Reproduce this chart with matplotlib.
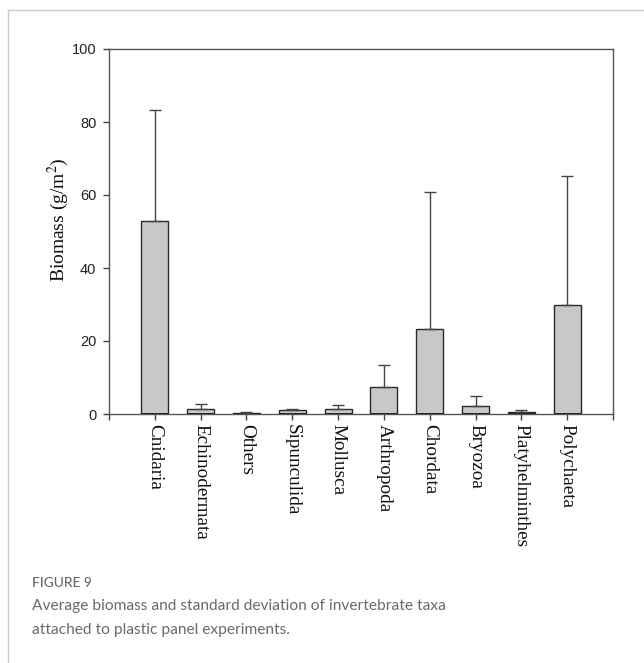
"""Average biomass (+SD) of invertebrate taxa on plastic panels."""

import matplotlib
matplotlib.use("Agg")
import matplotlib.pyplot as plt
from matplotlib.lines import Line2D

taxa = [
    "Cnidaria", "Echinodermata", "Others", "Sipunculida", "Mollusca",
    "Arthropoda", "Chordata", "Bryozoa", "Platyhelminthes", "Polychaeta",
]
biomass_mean = [53.0, 1.4, 0.3, 1.2, 1.4, 7.4, 23.2, 2.3, 0.6, 29.8]
biomass_sd = [30.3, 1.4, 0.2, 0.1, 1.1, 5.9, 37.7, 2.6, 0.5, 35.3]
y_ticks = [0, 20, 40, 60, 80, 100]

plt.rcParams["mathtext.fontset"] = "stix"

W, H = 644, 663
fig = plt.figure(figsize=(W / 100, H / 100), dpi=100)
ax = fig.add_axes([109 / W, 1 - 414 / H, (613 - 109) / W, (414 - 49) / H])

x = list(range(len(taxa)))
ax.bar(x, biomass_mean, width=0.59, color="#c8c8c8", edgecolor="#2a2a2a",
       linewidth=1.0, zorder=2)
# dark base line of each bar
ax.bar(x, [0.25] * len(x), width=0.59, color="#1a1a1a", linewidth=0, zorder=2)
ax.errorbar(x, biomass_mean, yerr=[[0] * len(x), biomass_sd], fmt="none",
            ecolor="#444444", elinewidth=1.0, capsize=4, capthick=1.0, zorder=3)

ax.set_xlim(-1, len(taxa))
ax.set_ylim(0, 100)

ax.set_xticks([-1] + x + [len(taxa)])
ax.set_xticklabels([""] + taxa + [""], rotation=270, family="Liberation Serif",
                   fontsize=13.8, color="#111111")
ax.set_yticks(y_ticks)
ax.set_yticklabels([str(v) for v in y_ticks], family="Liberation Sans",
                   fontsize=10.5, color="#222222")
ax.tick_params(axis="x", direction="out", length=4, width=1.0,
               color="#444444", pad=3)
ax.tick_params(axis="y", direction="out", length=4, width=1.0,
               color="#444444", pad=5)
for lbl in ax.get_xticklabels():
    lbl.set_va("top")
    lbl.set_ha("center")

for side in ["left", "right", "top", "bottom"]:
    ax.spines[side].set_color("#555555")
    ax.spines[side].set_linewidth(1.0)

fig.text(58 / W, 1 - 220 / H, "Biomass (g/m$^2$)", rotation=90,
         ha="center", va="center", family="Liberation Serif", fontsize=14,
         color="#111111")

# frame of the figure panel
fig.add_artist(Line2D([8 / W, 8 / W], [0, 1 - 10 / H], transform=fig.transFigure,
                      color="#cccccc", linewidth=1.0))
fig.add_artist(Line2D([8 / W, 1], [1 - 10 / H, 1 - 10 / H],
                      transform=fig.transFigure, color="#cccccc", linewidth=1.0))

fig.text(32 / W, 1 - 583 / H, "FIGURE 9", ha="left", va="center",
         family="Lato", fontsize=9.8, fontweight="medium", color="#666666")
fig.text(32 / W, 1 - 606 / H,
         "Average biomass and standard deviation of invertebrate taxa",
         ha="left", va="center", family="Lato", fontsize=11.2,
         color="#6a6a6a")
fig.text(32 / W, 1 - 630 / H, "attached to plastic panel experiments.",
         ha="left", va="center", family="Lato", fontsize=11.2,
         color="#6a6a6a")

fig.savefig("out.png", dpi=100)
